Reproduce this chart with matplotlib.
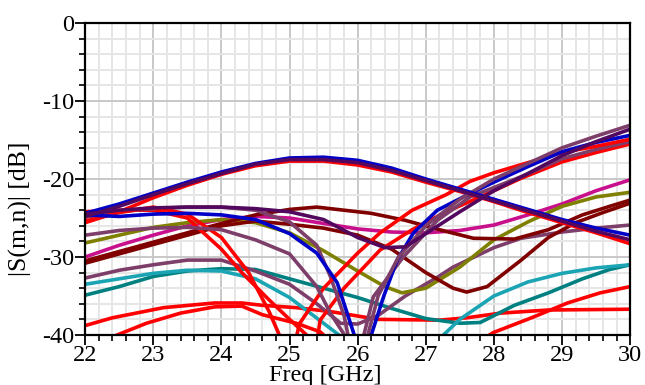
import matplotlib
matplotlib.use("Agg")
import matplotlib.pyplot as plt
from matplotlib.ticker import MultipleLocator

plt.rcParams["font.family"] = ["Liberation Serif", "DejaVu Serif"]
plt.rcParams["axes.unicode_minus"] = False

# common frequency grid (GHz)
freq = [22, 22.5, 23, 23.5, 24, 24.5, 25, 25.5, 26, 26.5, 27, 27.5, 28, 28.5, 29, 29.5, 30]

# broad arc curves
blue_arc = [-24.4, -23.2, -21.8, -20.4, -19.1, -18.0, -17.3, -17.2, -17.6, -18.6, -20.0, -21.3, -22.6, -23.9, -25.2, -26.3, -27.2]
purple_arc = [-24.8, -23.5, -22.0, -20.6, -19.3, -18.1, -17.5, -17.5, -17.9, -18.9, -20.2, -21.5, -22.8, -24.1, -25.4, -26.7, -27.8]
red_arc = [-25.6, -24.2, -22.4, -20.8, -19.4, -18.3, -17.7, -17.7, -18.2, -19.1, -20.4, -21.6, -22.9, -24.3, -25.6, -26.9, -28.3]

olive_f = [22, 22.5, 23, 23.5, 24, 24.5, 25, 25.5, 26, 26.4, 26.65, 27, 27.5, 28, 28.5, 29, 29.5, 30]
olive_db = [-28.2, -27.2, -26.2, -25.6, -25.2, -25.6, -26.9, -29.2, -31.8, -33.8, -34.6, -34.0, -31.3, -27.8, -25.5, -23.5, -22.3, -21.7]

magenta_db = [-30.0, -28.5, -27.2, -26.0, -25.2, -24.8, -25.0, -25.7, -26.4, -26.8, -26.9, -26.6, -25.9, -24.6, -23.2, -21.5, -20.1]

maroon1_f = [22, 22.5, 23, 23.5, 24, 24.5, 25, 25.4, 25.8, 26.2, 26.7, 27.2, 27.7, 28.3, 28.8, 29.3, 29.7, 30]
maroon1_db = [-30.5, -29.3, -28.1, -26.9, -25.7, -24.6, -23.9, -23.6, -24.0, -24.4, -25.3, -26.5, -27.6, -27.7, -26.5, -24.6, -23.5, -22.7]

maroon2_f = [22, 22.5, 23, 23.5, 24, 24.5, 25, 25.5, 26, 26.5, 27, 27.4, 27.6, 27.9, 28.4, 28.8, 29.2, 29.6, 30]
maroon2_db = [-30.8, -29.6, -28.4, -27.2, -26.0, -25.4, -25.8, -26.3, -27.2, -29.0, -32.0, -34.0, -34.5, -33.8, -30.4, -27.5, -25.6, -24.3, -23.1]

cyan_f = [22, 22.5, 23, 23.5, 24, 24.5, 25, 25.5, 25.8, 26.5, 27.2, 27.5, 28, 28.5, 29, 29.5, 30]
cyan_db = [-33.5, -32.8, -32.1, -31.7, -31.8, -32.8, -35.2, -38.5, -40.5, -48.0, -40.5, -38.0, -35.0, -33.2, -32.1, -31.4, -31.0]

teal_f = [22, 22.5, 23, 23.5, 24, 24.5, 25, 25.5, 26, 26.5, 27, 27.5, 27.8, 28.3, 28.8, 29.3, 29.7, 30]
teal_db = [-34.9, -33.8, -32.5, -31.8, -31.5, -31.6, -32.8, -34.0, -35.2, -36.6, -37.9, -38.5, -38.4, -36.2, -34.6, -32.8, -31.6, -31.0]

red_low1_f = [22, 22.4, 23.15, 23.9, 24.3, 24.6, 25.1, 25.6, 26.3, 27.2, 27.6, 28.1, 28.8, 30]
red_low1_db = [-38.8, -37.8, -36.5, -35.9, -35.9, -36.2, -36.5, -37.0, -38.0, -38.1, -37.8, -37.2, -36.8, -36.7]

red_low2_f = [22.1, 22.3, 22.9, 23.4, 23.9, 24.3, 24.6, 25.1, 25.45, 26.5, 27.99, 28.58, 29.08, 29.56, 30]
red_low2_db = [-41.5, -40.6, -38.5, -37.2, -36.4, -36.3, -37.4, -38.5, -39.6, -48.0, -39.7, -37.7, -35.9, -34.6, -33.8]

# resonant curves dipping near 25-26 GHz
blue_v_f = [22, 22.5, 23, 23.5, 24, 24.5, 25, 25.4, 25.7, 25.95, 26.05, 26.2, 26.38, 26.58, 26.82, 27.17, 27.55, 28, 28.5, 29, 29.5, 30]
blue_v_db = [-24.6, -24.8, -24.5, -24.4, -24.6, -25.2, -27.0, -29.5, -33.3, -40.0, -45.0, -40.0, -35.1, -30.4, -26.9, -24.0, -22.3, -20.4, -18.4, -16.5, -15.3, -14.4]

purple_v_f = [22, 22.5, 23, 23.5, 24, 24.5, 25, 25.5, 26, 26.4, 26.7, 27, 27.5, 28, 28.5, 29, 29.5, 30]
purple_v_db = [-24.5, -24.0, -23.7, -23.6, -23.6, -23.8, -24.2, -25.2, -27.5, -28.8, -28.7, -27.0, -24.2, -21.5, -19.3, -17.0, -15.2, -13.6]

mauve_v_f = [22, 22.5, 23, 23.5, 24, 24.5, 25, 25.4, 25.6, 25.85, 26.0, 26.15, 26.3, 26.6, 27, 27.5, 28, 28.5, 29, 29.5, 30]
mauve_v_db = [-27.2, -26.6, -26.3, -26.2, -26.5, -27.8, -29.6, -33.8, -37.2, -40.6, -45.0, -40.0, -35.0, -30.0, -26.0, -22.6, -20.0, -18.0, -16.0, -14.5, -13.1]

mauve_low_f = [22, 22.5, 23, 23.5, 24, 24.5, 25, 25.4, 25.75, 26.0, 26.3, 26.7, 27.17, 27.4, 28, 28.4, 29, 29.5, 30]
mauve_low_db = [-32.7, -31.7, -31.0, -30.4, -30.4, -31.8, -33.5, -36.0, -38.5, -38.6, -37.5, -35.0, -32.6, -31.3, -28.8, -27.6, -26.8, -26.3, -25.9]

mauve_top_f = [22, 22.5, 23, 23.5, 24, 24.5, 25, 25.4, 25.6, 25.8, 25.95, 26.1, 26.23, 26.67, 27.17, 27.65, 28.4, 29, 29.5, 30]
mauve_top_db = [-24.9, -24.2, -23.8, -23.6, -23.6, -24.0, -25.5, -28.5, -32.5, -37.5, -44.0, -39.7, -35.1, -30.0, -25.3, -22.3, -19.7, -17.4, -16.2, -15.2]

red_v1_f = [22, 22.5, 23, 23.5, 24, 24.4, 24.7, 24.85, 24.95, 25.05, 25.15, 25.5, 26, 26.33, 26.8, 27.3, 27.65, 28, 28.5, 29, 29.5, 30]
red_v1_db = [-25.4, -24.3, -23.6, -24.5, -27.5, -32.0, -37.0, -40.0, -46.0, -42.0, -38.5, -34.0, -29.5, -26.9, -24.0, -22.0, -20.3, -19.2, -17.9, -16.6, -15.8, -14.9]

red_v2_f = [22, 22.5, 23, 23.5, 24, 24.3, 24.7, 25, 25.25, 25.35, 25.45, 25.8, 26.33, 26.8, 27.3, 27.8, 28.4, 29, 29.5, 30]
red_v2_db = [-24.2, -24.0, -24.0, -25.0, -29.0, -32.0, -35.5, -38.0, -40.0, -44.0, -38.1, -34.0, -29.1, -26.5, -24.2, -22.3, -19.9, -17.8, -16.6, -15.5]

BLUE = "#0000c8"
RED = "#ff0000"
PURPLE = "#52085e"
MAUVE = "#7e3e6a"
OLIVE = "#808000"
MAGENTA = "#c8108c"
MAROON = "#800000"
CYAN = "#1aa4b4"
TEAL = "#008080"

curves = [
    (red_low1_f, red_low1_db, RED),
    (red_low2_f, red_low2_db, RED),
    (teal_f, teal_db, TEAL),
    (cyan_f, cyan_db, CYAN),
    (mauve_low_f, mauve_low_db, MAUVE),
    (freq, magenta_db, MAGENTA),
    (olive_f, olive_db, OLIVE),
    (maroon2_f, maroon2_db, MAROON),
    (maroon1_f, maroon1_db, MAROON),
    (red_v2_f, red_v2_db, RED),
    (mauve_top_f, mauve_top_db, MAUVE),
    (red_v1_f, red_v1_db, RED),
    (freq, red_arc, RED),
    (blue_v_f, blue_v_db, BLUE),
    (mauve_v_f, mauve_v_db, MAUVE),
    (freq, blue_arc, BLUE),
    (purple_v_f, purple_v_db, PURPLE),
    (freq, purple_arc, PURPLE),
]

fig = plt.figure(figsize=(6.45, 3.85), dpi=100)
ax = fig.add_axes([0.132, 0.130, 0.845, 0.810])

for xs, ys, c in curves:
    ax.plot(xs, ys, color=c, linewidth=2.6, solid_capstyle="butt")

ax.set_xlim(22, 30)
ax.set_ylim(-40, 0)
ax.xaxis.set_major_locator(MultipleLocator(1))
ax.xaxis.set_minor_locator(MultipleLocator(0.2))
ax.yaxis.set_major_locator(MultipleLocator(10))
ax.yaxis.set_minor_locator(MultipleLocator(2))
ax.grid(which="major", color="#c8c8c8", linewidth=1.4)
ax.grid(which="minor", color="#e6e6e6", linewidth=1.4)
ax.set_axisbelow(True)

ax.tick_params(which="major", direction="out", length=7, width=1.3, labelsize=17.5, pad=1)
ax.tick_params(which="minor", direction="out", length=4, width=1.2)
ax.tick_params(axis="x", pad=0)
for s in ax.spines.values():
    s.set_linewidth(1.6)

ax.set_xlabel("Freq [GHz]", fontsize=17.5)
ax.set_ylabel("|S(m,n)| [dB]", fontsize=18.5)
ax.xaxis.set_label_coords(0.44, -0.096)
ax.yaxis.set_label_coords(-0.097, 0.405)

fig.savefig("out.png", dpi=100)
